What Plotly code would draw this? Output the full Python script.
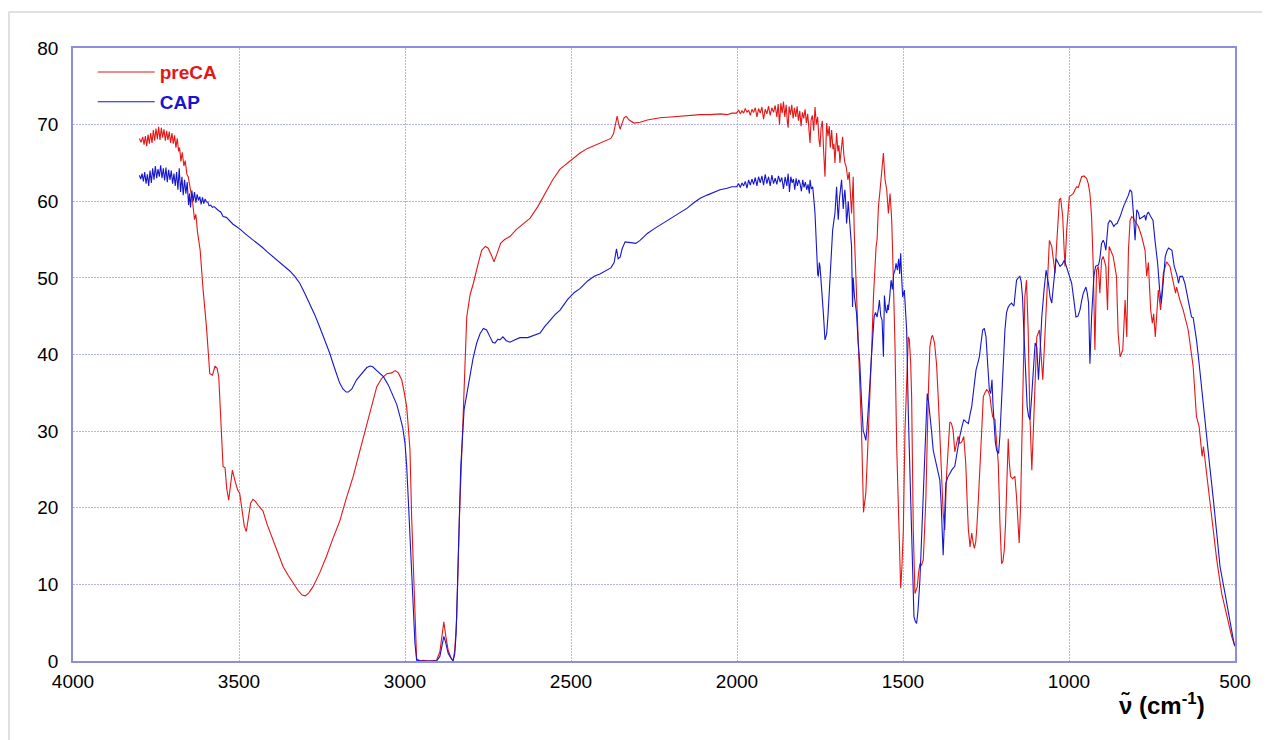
import plotly.graph_objects as go

# ---------------- data ----------------
preca_wn = [3800,3795,3790,3786,3782,3778,3774,3770,3766,3762,3758,3754,3750,3746,3742,3738,3734,3730,3726,3722,
            3718,3714,3710,3706,3702,3698,3694,3690,3686,3682,3679,3675,3671,3666,3662,3657,3653,3645,3640,3634,
            3630,3625,3617,3608,3598,3588,3580,3572,3566,3561,3553,3548,3542,3537,3531,3526,3520,3512,3504,3498,
            3490,3484,3478,3472,3465,3458,3450,3440,3428,3415,3398,3382,3367,3352,3337,3322,3310,3300,3290,3277,
            3257,3237,3217,3197,3177,3156,3135,3115,3100,3085,3070,3055,3040,3030,3020,3010,3002,2995,2990,2985,
            2980,2973,2965,2955,2945,2930,2915,2905,2895,2888,2883,2878,2870,2862,2855,2850,2844,2836,2826,2814,
            2804,2794,2780,2769,2758,2750,2740,2732,2724,2712,2700,2684,2665,2645,2623,2600,2578,2555,2533,2510,
            2490,2473,2450,2430,2413,2395,2380,2372,2366,2361,2356,2352,2346,2340,2334,2325,2310,2292,2270,2250,
            2232,2200,2170,2140,2111,2080,2050,2030,2015,2001,1995,1990,1985,1980,1975,1970,1965,1960,1955,1950,
            1945,1940,1935,1930,1925,1920,1915,1910,1905,1900,1895,1890,1885,1880,1876,1872,1868,1864,1860,1856,
            1852,1848,1846,1843,1839,1835,1831,1827,1823,1819,1815,1811,1807,1803,1799,1795,1791,1787,1783,1780,
            1777,1773,1769,1765,1761,1757,1753,1750,1747,1743,1739,1735,1732,1730,1726,1722,1719,1715,1711,1708,
            1705,1702,1700,1696,1693,1690,1686,1682,1678,1675,1671,1666,1662,1658,1655,1652,1650,1647,1644,1640,
            1635,1630,1625,1620,1619,1616,1612,1606,1599,1594,1589,1585,1581,1578,1574,1569,1564,1561,1559,1556,
            1554,1549,1546,1544,1541,1539,1536,1534,1531,1529,1524,1519,1514,1510,1507,1503,1499,1494,1489,1484,
            1481,1477,1474,1469,1464,1460,1457,1453,1449,1444,1439,1435,1431,1424,1419,1414,1411,1405,1399,1394,
            1389,1384,1379,1374,1369,1364,1359,1354,1349,1344,1339,1334,1329,1323,1317,1311,1306,1303,1298,1293,
            1289,1285,1281,1278,1273,1268,1263,1258,1253,1248,1243,1238,1234,1230,1226,1223,1218,1213,1208,1203,
            1199,1195,1191,1188,1183,1180,1176,1170,1163,1158,1154,1150,1146,1143,1138,1133,1128,1123,1118,1112,
            1107,1102,1097,1089,1084,1079,1073,1067,1059,1052,1047,1042,1037,1033,1029,1025,1019,1015,1012,1007,
            999,993,987,982,977,972,967,962,955,947,942,937,932,927,922,917,912,907,902,897,
            889,884,879,873,867,857,852,846,838,831,826,821,816,811,806,801,791,781,771,766,
            761,754,749,745,740,731,724,716,706,696,686,679,676,666,656,641,626,616,608,599,
            595,585,570,555,540,525,515,510,500]
preca_t = [68.2,67.7,68.4,67.4,68.5,67.2,68.7,67.5,68.9,67.6,69.3,67.9,69.5,68.1,69.7,68.0,69.6,68.3,69.4,67.9,
           69.2,68.0,69.1,67.6,68.9,67.5,68.6,67.0,68.2,66.5,67.0,65.2,66.4,64.6,65.3,63.5,63.2,61.5,60.0,57.6,
           58.3,56.0,53.6,48.4,43.6,37.5,37.3,38.5,38.2,37.1,30.6,25.4,25.2,22.5,21.0,23.2,24.9,23.5,22.3,21.9,
           19.5,17.6,16.9,18.5,20.6,21.1,20.8,20.2,19.6,17.8,15.8,14.0,12.3,11.2,10.2,9.2,8.6,8.5,8.9,9.7,
           11.5,13.6,16.0,18.2,21.2,24.1,27.6,31.0,33.6,35.8,36.9,37.5,37.6,37.9,37.6,36.7,35.0,33.2,30.5,27.5,
           18.8,10.2,0.3,0.0,0.1,0.0,0.1,0.1,1.2,3.8,5.1,3.5,1.4,0.5,0.0,1.5,5.8,18.8,31.9,44.9,
           47.8,49.3,51.8,53.6,54.1,53.9,53.0,52.1,53.0,54.5,55.0,55.4,56.3,57.0,57.8,59.3,61.0,62.8,64.2,65.0,
           65.8,66.3,66.9,67.3,67.6,67.9,68.2,68.8,70.3,71.1,70.0,69.4,70.2,70.9,71.1,70.6,70.2,70.3,70.6,70.8,
           70.9,71.0,71.1,71.2,71.3,71.3,71.4,71.3,71.5,71.5,71.9,71.4,71.8,71.5,72.1,71.6,71.9,71.2,72.0,71.6,
           72.2,71.0,72.1,71.5,72.3,70.7,72.0,71.4,72.4,71.2,72.2,71.6,72.5,71.0,72.7,70.0,72.8,71.5,73.0,71.0,
           72.6,70.2,69.6,72.4,71.3,72.6,70.8,72.2,71.0,72.4,70.5,71.8,69.8,71.6,70.8,72.0,70.2,71.4,68.5,67.6,
           70.6,71.2,69.2,72.3,70.0,71.0,68.0,67.1,69.5,70.5,66.5,63.2,67.5,70.2,68.5,69.8,67.0,69.3,66.8,67.5,
           65.0,68.0,68.9,66.5,67.3,65.0,66.8,68.4,66.0,65.0,64.5,62.8,63.8,60.5,58.4,61.0,63.2,56.2,52.5,49.7,
           43.2,37.0,30.1,21.4,19.4,20.5,21.9,28.0,34.5,41.0,47.5,51.0,54.1,55.0,59.3,61.5,64.0,65.5,66.3,64.0,
           62.8,61.5,60.2,58.4,60.0,61.0,59.0,57.5,53.0,49.7,41.0,28.0,19.3,14.0,9.5,12.5,17.1,30.1,36.5,42.3,
           42.0,39.0,34.5,17.1,8.8,9.5,9.7,11.5,12.7,12.5,13.2,17.0,21.4,34.5,41.0,42.3,42.5,41.5,38.8,34.5,
           30.1,24.5,19.3,17.1,24.1,28.0,31.2,31.0,30.1,27.3,28.5,29.3,28.4,28.6,29.3,25.8,20.0,17.1,14.9,16.7,
           15.5,14.7,15.5,17.1,21.0,25.8,30.5,34.5,35.0,35.4,35.2,34.5,33.0,31.9,31.6,31.5,28.5,25.8,18.0,12.7,
           13.0,14.5,18.0,21.4,29.0,26.0,24.1,23.8,24.1,21.4,18.0,15.4,20.0,25.8,38.8,47.5,49.7,43.2,32.3,24.9,
           30.5,36.7,42.3,43.2,40.0,36.7,42.0,47.1,54.9,54.1,52.0,50.6,54.5,57.5,60.2,60.4,58.0,54.0,51.5,56.2,
           60.6,60.8,61.0,61.5,61.9,61.8,62.5,63.2,63.3,63.0,62.3,61.0,58.0,51.5,40.6,51.0,51.5,48.0,52.3,52.8,
           51.5,45.8,54.1,53.5,52.8,50.2,42.8,39.7,40.6,47.1,42.3,53.6,57.5,58.0,57.8,57.4,56.7,55.4,53.6,50.2,
           52.0,45.8,44.1,45.3,42.3,48.4,45.8,50.6,52.1,51.5,49.3,48.0,48.8,47.1,45.8,43.2,38.4,31.9,30.6,26.7,
           28.0,24.1,18.8,13.2,8.8,5.8,3.8,3.2,1.9]

cap_wn = [3800,3796,3792,3788,3784,3780,3776,3772,3768,3764,3760,3756,3752,3748,3744,3740,3736,3732,3728,3724,
          3720,3716,3712,3708,3704,3700,3696,3692,3688,3684,3680,3676,3672,3668,3664,3660,3656,3652,3649,3646,
          3642,3638,3634,3630,3626,3622,3618,3614,3610,3606,3602,3598,3594,3590,3585,3580,3575,3568,3562,3555,
          3548,3538,3528,3518,3508,3498,3480,3465,3448,3430,3415,3398,3380,3365,3347,3332,3317,3302,3287,3272,
          3257,3242,3227,3212,3197,3187,3177,3171,3160,3146,3130,3115,3105,3097,3085,3075,3065,3050,3035,3025,
          3015,3007,3000,2995,2990,2985,2980,2975,2970,2965,2950,2935,2920,2905,2895,2888,2883,2878,2870,2862,
          2855,2850,2846,2839,2832,2822,2812,2804,2795,2784,2774,2764,2754,2744,2736,2729,2720,2714,2705,2695,
          2684,2670,2654,2630,2610,2593,2580,2563,2548,2533,2510,2490,2473,2450,2430,2413,2395,2380,2370,2363,
          2358,2352,2346,2337,2320,2305,2292,2270,2250,2232,2210,2190,2172,2150,2130,2111,2090,2070,2051,2030,
          2015,2001,1995,1990,1985,1980,1975,1970,1965,1960,1955,1950,1945,1940,1935,1930,1925,1920,1915,1910,
          1905,1900,1895,1890,1885,1880,1875,1870,1865,1860,1855,1850,1846,1842,1838,1834,1830,1826,1822,1818,
          1814,1810,1806,1802,1798,1794,1790,1786,1782,1780,1776,1772,1770,1767,1765,1762,1760,1757,1755,1752,
          1750,1747,1745,1740,1735,1730,1726,1723,1720,1716,1712,1708,1705,1702,1700,1697,1695,1691,1688,1685,
          1682,1680,1677,1675,1672,1670,1667,1665,1660,1655,1652,1650,1646,1643,1640,1635,1630,1625,1620,1616,
          1612,1609,1605,1600,1595,1591,1587,1583,1578,1574,1571,1567,1563,1559,1556,1552,1549,1546,1544,1540,
          1536,1532,1528,1524,1521,1517,1513,1510,1507,1504,1501,1496,1492,1489,1484,1477,1471,1467,1463,1459,
          1455,1449,1445,1441,1434,1427,1423,1419,1414,1409,1404,1399,1394,1389,1385,1379,1375,1371,1365,1359,
          1352,1344,1337,1329,1323,1317,1310,1303,1298,1293,1286,1280,1275,1270,1265,1260,1255,1250,1245,1240,
          1236,1232,1229,1226,1222,1218,1212,1208,1203,1198,1193,1188,1183,1178,1173,1166,1162,1158,1153,1148,
          1144,1140,1136,1133,1129,1126,1122,1118,1114,1110,1106,1102,1097,1092,1087,1082,1075,1069,1062,1057,
          1052,1046,1039,1033,1027,1020,1014,1008,1002,997,992,985,979,973,967,962,957,949,945,941,
          937,932,925,920,911,907,902,897,893,889,885,882,877,872,865,860,855,846,836,831,
          826,821,816,811,806,801,796,791,787,783,776,772,769,765,761,754,747,741,733,727,
          722,717,710,705,700,690,683,675,670,666,658,651,641,631,626,621,616,608,596,585,
          576,565,555,545,530,515,503,500]
cap_t = [63.4,62.9,63.6,62.6,63.8,62.3,63.5,62.0,64.0,62.4,64.3,62.8,64.6,63.0,64.2,63.2,64.7,63.0,64.3,62.7,
         64.4,62.5,64.1,62.8,64.0,62.3,63.6,62.0,63.8,61.5,64.3,61.2,63.2,60.8,62.8,61.0,62.5,59.5,61.0,59.2,
         61.4,60.0,61.2,59.8,60.9,60.1,60.6,59.6,60.5,59.7,60.3,59.9,59.9,59.4,59.5,59.2,59.3,59.0,58.8,58.6,
         58.0,57.9,57.4,57.0,56.7,56.4,55.7,55.2,54.7,54.0,53.4,52.8,52.1,51.6,50.9,50.2,49.3,48.0,46.7,45.2,
         43.6,41.9,40.2,38.2,36.3,35.5,35.1,35.1,35.5,36.7,37.6,38.3,38.5,38.4,37.9,37.5,37.1,36.0,34.5,33.5,
         31.9,30.5,28.4,25.5,21.0,16.5,12.3,7.0,2.3,0.1,0.0,0.0,0.0,0.0,0.6,2.2,3.2,2.5,1.0,0.4,
         0.0,1.0,3.6,14.5,25.4,32.8,35.5,37.5,39.5,41.5,42.7,43.4,43.2,42.3,41.6,41.5,42.0,41.9,42.3,41.8,
         41.6,41.9,42.2,42.2,42.5,42.8,43.6,44.5,45.2,45.8,47.2,48.1,48.6,49.6,50.2,50.5,51.0,51.3,52.0,53.8,
         52.5,52.7,53.8,54.7,54.6,54.5,54.9,55.8,56.4,56.9,57.4,58.0,58.5,59.1,59.8,60.4,60.8,61.2,61.5,61.7,
         61.9,61.9,62.3,61.8,62.4,62.0,62.6,61.7,62.8,62.1,62.9,62.2,63.1,62.0,63.2,62.4,63.3,62.1,63.5,62.3,
         63.2,62.0,63.4,62.3,63.0,62.2,63.3,62.5,63.1,61.6,63.2,62.0,63.6,61.2,63.2,62.4,62.9,61.5,63.0,62.0,
         62.8,62.3,61.3,62.8,61.8,62.5,61.5,62.2,61.0,62.8,61.6,61.9,60.2,59.5,58.4,55.0,52.8,50.5,50.2,52.0,
         51.5,50.0,48.9,45.5,41.9,42.7,45.0,47.5,50.6,53.5,56.2,57.5,58.4,60.5,61.9,59.0,57.6,60.5,61.8,62.8,
         60.5,59.0,60.8,61.5,59.5,57.1,58.5,60.0,57.0,54.1,46.2,50.0,47.5,46.0,45.4,41.5,38.8,34.0,30.1,29.5,
         28.8,30.0,32.3,36.0,39.7,42.5,44.9,45.5,44.9,46.0,47.1,45.0,44.5,39.7,47.7,45.8,45.4,46.5,45.8,47.5,
         49.7,48.5,50.5,51.0,51.9,51.0,52.5,50.5,53.2,50.0,47.5,48.4,46.0,43.2,32.3,21.4,10.6,5.8,5.2,4.9,
         6.5,10.6,15.0,19.3,28.0,34.9,33.8,32.3,30.0,27.5,26.5,25.8,24.6,23.6,20.5,13.8,18.5,23.2,24.0,24.5,
         25.0,25.4,27.5,29.3,30.5,31.5,31.2,31.0,32.2,33.2,35.8,38.0,38.8,39.7,41.5,43.2,43.4,42.3,38.8,35.4,
         34.9,36.7,33.5,30.6,28.6,27.5,27.1,29.5,34.5,39.0,43.2,45.5,46.2,46.5,46.7,46.3,48.0,49.7,50.0,50.2,
         49.5,47.5,43.0,39.7,36.0,33.2,32.0,31.5,33.5,36.7,39.5,41.5,41.0,36.7,40.5,44.9,48.5,51.0,49.3,47.5,
         46.7,49.5,52.5,52.0,51.5,51.8,52.3,51.5,50.6,50.0,49.3,47.0,44.9,45.0,45.8,47.0,48.0,48.8,48.0,46.7,
         38.8,44.9,50.2,51.5,51.7,52.5,54.5,54.9,54.5,53.6,55.5,57.1,57.5,57.3,56.7,57.0,57.1,58.0,59.3,59.8,
         60.2,60.8,61.5,61.2,58.4,54.9,58.9,58.5,57.7,57.8,58.0,58.2,57.5,58.3,58.6,58.0,57.5,54.9,51.9,48.4,
         46.7,49.0,52.8,53.5,53.9,53.6,51.5,50.4,49.3,50.2,50.2,49.3,47.1,44.9,44.8,43.5,41.9,38.8,34.1,29.7,
         25.4,21.0,16.2,12.3,8.8,4.9,2.3,2.0]

series_names = ["preCA", "CAP"]
x_ticks = [4000, 3500, 3000, 2500, 2000, 1500, 1000, 500]
y_ticks = [0, 10, 20, 30, 40, 50, 60, 70, 80]

RED = "rgb(228,22,22)"
BLUE = "rgb(22,22,205)"
FONT = "Liberation Sans, Arial, sans-serif"

fig = go.Figure()
fig.add_trace(go.Scatter(
    x=preca_wn, y=preca_t, mode="lines", line=dict(color=RED, width=1.1),
    name=f"<b><span style='color:{RED}'>{series_names[0]}</span></b>", legendgroup="a"))
fig.add_trace(go.Scatter(
    x=cap_wn, y=cap_t, mode="lines", line=dict(color=BLUE, width=1.1),
    name=f"<b><span style='color:{BLUE}'>{series_names[1]}</span></b>", legendgroup="b"))

grid_col = "rgba(120,120,230,0.55)"
axis_col = "rgb(140,140,225)"

# the page adds an 8px body margin, so the figure is 8px smaller and margins shifted
fig.update_layout(
    width=1262, height=732,
    margin=dict(l=65, r=35, t=40, b=79),
    paper_bgcolor="white", plot_bgcolor="white",
    font=dict(family=FONT, size=19, color="black"),
    showlegend=True,
    legend=dict(x=0.017, y=0.9915, xanchor="left", yanchor="top",
                bgcolor="rgba(0,0,0,0)", borderwidth=0,
                font=dict(family=FONT, size=19),
                tracegroupgap=2, itemwidth=57),
    xaxis=dict(range=[4000, 500], tickvals=x_ticks, ticks="", ticklabelstandoff=2,
               showgrid=True, gridcolor=grid_col, griddash="2px,1px", gridwidth=1,
               showline=True, linecolor=axis_col, linewidth=1.5, mirror=True,
               zeroline=False, tickfont=dict(family=FONT, size=19)),
    yaxis=dict(range=[0, 80], tickvals=y_ticks, ticks="", ticklabelstandoff=9,
               showgrid=True, gridcolor=grid_col, griddash="2px,1px", gridwidth=1,
               showline=True, linecolor=axis_col, linewidth=1.5, mirror=True,
               zeroline=False, tickfont=dict(family=FONT, size=19)),
)

fig.add_annotation(text="<b>ν̃ (cm<sup>-1</sup>)</b>", xref="paper", yref="paper",
                   x=0.937, y=-0.070, xanchor="center", yanchor="middle",
                   showarrow=False, font=dict(family=FONT, size=24, color="black"))

# outer light frame of the picture
fig.add_shape(type="rect", xref="paper", yref="paper",
              x0=-0.0551, x1=1.05, y0=-0.14, y1=1.0587,
              line=dict(color="rgb(215,215,215)", width=1.5), layer="below")

fig.write_html("out.html")
